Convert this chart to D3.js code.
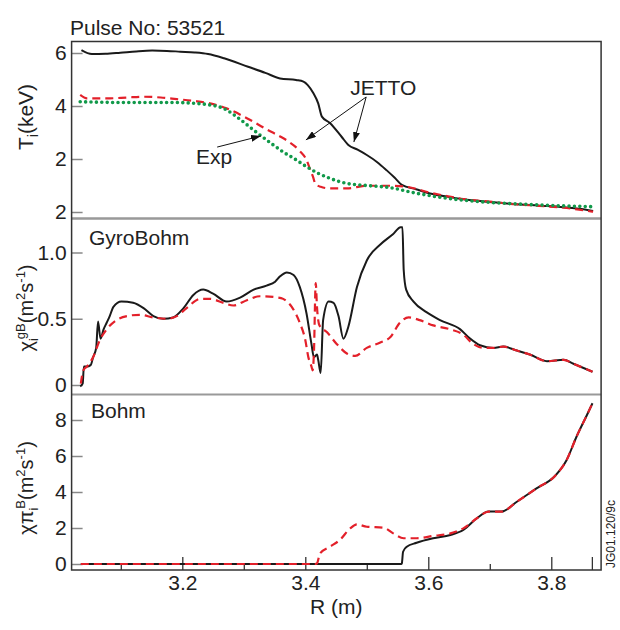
<!DOCTYPE html>
<meta charset="utf-8">
<style>
  body { margin: 0; background: #fff; }
  svg text { font-family: "Liberation Sans", Arial, Helvetica, sans-serif; fill: #222; }
  .ytick line { stroke: #888; stroke-width: 1.5px; }
  .xtick line { stroke: #333; stroke-width: 1.3px; }
  .tick text { font-size: 21px; }
  .frame { stroke: #333; stroke-width: 1.5px; fill: none; }
  .sep { stroke: #999; stroke-width: 2.5px; }
  .run1 { fill: none; stroke: #1a1a1a; stroke-width: 2px; }
  .run2 { fill: none; stroke: #e3202a; stroke-width: 2.2px; stroke-dasharray: 8 5; }
  .exp { fill: none; stroke: #11994a; stroke-width: 3.6px; stroke-dasharray: 0 5.4; stroke-linecap: round; }
</style>
<body>
<div id="chart"></div>
<script src="https://d3js.org/d3.v7.min.js"></script>
<script>

// ---- data: [R (m), value] ----
// Ti (keV)
var tiRun1 = [[3.036,6.11],[3.053,5.96],[3.075,5.97],[3.099,6.01],[3.125,6.06],[3.151,6.09],[3.175,6.08],[3.197,6.05],[3.22,6.02],[3.242,5.96],[3.268,5.80],[3.307,5.48],[3.335,5.25],[3.359,5.04],[3.385,4.98],[3.397,4.92],[3.404,4.79],[3.413,4.49],[3.421,4.1],[3.427,3.60],[3.440,3.36],[3.459,2.84],[3.470,2.53],[3.485,2.35],[3.500,2.15],[3.517,1.88],[3.532,1.58],[3.545,1.3],[3.557,1.02],[3.580,0.86],[3.603,0.70],[3.630,0.58],[3.657,0.48],[3.700,0.38],[3.738,0.30],[3.780,0.24],[3.820,0.18],[3.845,0.12],[3.868,0.04]];
var tiRun2 = [[3.034,4.42],[3.045,4.29],[3.082,4.29],[3.110,4.32],[3.137,4.35],[3.165,4.32],[3.191,4.26],[3.22,4.19],[3.245,4.10],[3.272,3.91],[3.305,3.54],[3.337,3.12],[3.359,2.85],[3.370,2.70],[3.391,2.30],[3.402,1.96],[3.408,1.6],[3.413,1.3],[3.416,1.08],[3.425,0.95],[3.440,0.89],[3.467,0.89],[3.500,0.99],[3.538,0.99],[3.565,0.95],[3.603,0.73],[3.630,0.60],[3.657,0.49],[3.700,0.39],[3.738,0.30],[3.780,0.23],[3.820,0.16],[3.868,0.01]];
var tiExp = [[3.034,4.16],[3.070,4.14],[3.110,4.13],[3.150,4.13],[3.191,4.13],[3.22,4.10],[3.245,4.04],[3.267,3.91],[3.288,3.60],[3.316,3.09],[3.348,2.53],[3.365,2.25],[3.381,2.03],[3.402,1.71],[3.420,1.47],[3.440,1.27],[3.467,1.08],[3.505,0.99],[3.538,0.92],[3.576,0.73],[3.620,0.55],[3.684,0.39],[3.766,0.28],[3.820,0.23],[3.868,0.20]];

// chi_i gyro-Bohm (m2/s)
var gbRun1 = [[3.034,-0.01],[3.038,0.01],[3.040,0.14],[3.045,0.14],[3.051,0.15],[3.055,0.21],[3.060,0.28],[3.063,0.48],[3.067,0.35],[3.072,0.42],[3.077,0.47],[3.082,0.52],[3.088,0.59],[3.101,0.63],[3.120,0.62],[3.137,0.58],[3.153,0.52],[3.169,0.50],[3.185,0.51],[3.202,0.58],[3.218,0.68],[3.234,0.72],[3.250,0.69],[3.272,0.63],[3.294,0.66],[3.316,0.72],[3.337,0.75],[3.351,0.78],[3.359,0.82],[3.370,0.85],[3.381,0.83],[3.391,0.74],[3.402,0.54],[3.410,0.31],[3.414,0.21],[3.419,0.23],[3.421,0.19],[3.425,0.09],[3.429,0.49],[3.438,0.63],[3.446,0.62],[3.454,0.52],[3.462,0.35],[3.470,0.44],[3.484,0.74],[3.500,0.94],[3.522,1.06],[3.543,1.14],[3.555,1.19],[3.558,1.19],[3.560,0.87],[3.564,0.72],[3.576,0.63],[3.597,0.55],[3.619,0.49],[3.652,0.42],[3.668,0.35],[3.684,0.30],[3.706,0.28],[3.722,0.29],[3.744,0.26],[3.765,0.23],[3.793,0.18],[3.820,0.19],[3.836,0.16],[3.867,0.10]];
var gbRun2 = [[3.035,0.01],[3.039,0.11],[3.045,0.14],[3.055,0.21],[3.066,0.34],[3.077,0.42],[3.093,0.49],[3.110,0.52],[3.131,0.53],[3.153,0.51],[3.175,0.50],[3.191,0.52],[3.207,0.58],[3.229,0.65],[3.245,0.65],[3.267,0.62],[3.283,0.60],[3.305,0.64],[3.326,0.67],[3.356,0.66],[3.364,0.65],[3.378,0.59],[3.391,0.47],[3.400,0.34],[3.405,0.21],[3.410,0.14],[3.412,0.11],[3.414,0.24],[3.417,0.77],[3.419,0.59],[3.423,0.45],[3.435,0.40],[3.451,0.31],[3.467,0.24],[3.481,0.22],[3.500,0.28],[3.522,0.32],[3.538,0.36],[3.554,0.47],[3.568,0.51],[3.586,0.49],[3.608,0.45],[3.636,0.42],[3.657,0.38],[3.673,0.31],[3.690,0.28],[3.706,0.28],[3.722,0.29],[3.744,0.26],[3.765,0.23],[3.793,0.18],[3.820,0.19],[3.836,0.16],[3.867,0.10]];

// chi pi_i Bohm (m2/s)
var bRun1 = [[3.035,0],[3.556,0],[3.557,0.04],[3.559,0.68],[3.565,0.96],[3.581,1.18],[3.608,1.43],[3.636,1.61],[3.657,1.89],[3.679,2.54],[3.698,2.91],[3.719,2.91],[3.744,3.46],[3.776,4.20],[3.806,4.89],[3.825,5.78],[3.841,7.07],[3.858,8.28],[3.867,8.93]];
var bRun2 = [[3.035,0],[3.416,0],[3.419,0.04],[3.424,0.59],[3.440,0.96],[3.456,1.33],[3.473,1.98],[3.484,2.20],[3.500,2.07],[3.527,2.02],[3.543,1.70],[3.560,1.43],[3.581,1.43],[3.608,1.56],[3.636,1.70],[3.657,1.98],[3.679,2.54],[3.698,2.91],[3.719,2.91],[3.744,3.46],[3.776,4.20],[3.806,4.89],[3.825,5.78],[3.841,7.07],[3.858,8.28],[3.867,8.93]];

// ticks
var xMajor = [3.2, 3.4, 3.6, 3.8, 3.866];
var xMajorLabels = ["3.2", "3.4", "3.6", "3.8", ""];
var xMinor = [3.1, 3.3, 3.5, 3.7];
var topTicks = [0, 2, 4, 6];
var topTickLabels = ["2", "2", "4", "6"];   // as printed on the original
var midTicks = [0, 0.5, 1.0];
var midTickLabels = ["0", "0.5", "1.0"];
var botTicks = [0, 2, 4, 6, 8];

var width = 620, height = 630;
var left = 71.6, right = 601.1;
var panels = {top: 41.5, sep1: 218.5, sep2: 394.5, bottom: 570};

var svg = d3.select("#chart").append("svg")
    .attr("width", width)
    .attr("height", height);

var x = d3.scaleLinear().domain([3.02, 3.881]).range([left, right]);
var yTop = d3.scaleLinear().domain([0, 6]).range([212, 53]);
var yMid = d3.scaleLinear().domain([0, 1]).range([385, 252.5]);
var yBot = d3.scaleLinear().domain([0, 8]).range([564, 420]);

// arrow head
svg.append("defs").append("marker")
    .attr("id", "arrow")
    .attr("viewBox", "0 0 10 7")
    .attr("refX", 10).attr("refY", 3.5)
    .attr("markerWidth", 10).attr("markerHeight", 7)
    .attr("markerUnits", "userSpaceOnUse")
    .attr("orient", "auto")
  .append("path")
    .attr("d", "M0,0L10,3.5L0,7Z")
    .attr("fill", "#111");

// y axes (ticks pointing inward)
function yAxis(scale, values, labels) {
  var ax = d3.axisLeft(scale).tickValues(values).tickSize(-11).tickPadding(5);
  if (labels) ax.tickFormat(function(d, i) { return labels[i]; });
  svg.append("g")
    .attr("class", "ytick")
    .attr("transform", "translate(" + left + ",0)")
    .call(ax)
    .call(function(g) { g.select(".domain").remove(); });
}
yAxis(yTop, topTicks, topTickLabels);
yAxis(yMid, midTicks, midTickLabels);
yAxis(yBot, botTicks, null);

// x axis on the bottom panel
svg.append("g")
    .attr("class", "xtick")
    .attr("transform", "translate(0," + panels.bottom + ")")
    .call(d3.axisBottom(x).tickValues(xMajor).tickSize(-13).tickPadding(5)
      .tickFormat(function(d, i) { return xMajorLabels[i]; }))
    .call(function(g) { g.select(".domain").remove(); });

svg.append("g")
    .attr("class", "xtick")
    .attr("transform", "translate(0," + panels.bottom + ")")
    .call(d3.axisBottom(x).tickValues(xMinor).tickSize(-6).tickFormat(""))
    .call(function(g) { g.select(".domain").remove(); });

// frame
svg.append("line").attr("class", "sep")
    .attr("x1", left).attr("x2", right).attr("y1", panels.sep1).attr("y2", panels.sep1);
svg.append("line").attr("class", "sep").style("stroke-width", "2px")
    .attr("x1", left).attr("x2", right).attr("y1", panels.sep2).attr("y2", panels.sep2);
svg.append("rect").attr("class", "frame")
    .attr("x", left).attr("y", panels.top)
    .attr("width", right - left).attr("height", panels.bottom - panels.top);

// curves
function draw(data, yScale, cls) {
  var line = d3.line()
      .x(function(d) { return x(d[0]); })
      .y(function(d) { return yScale(d[1]); })
      .curve(d3.curveMonotoneX);
  svg.append("path").datum(data).attr("class", cls).attr("d", line);
}
draw(tiRun1, yTop, "run1");
draw(tiRun2, yTop, "run2");
draw(tiExp, yTop, "exp");
draw(gbRun1, yMid, "run1");
draw(gbRun2, yMid, "run2");
draw(bRun1, yBot, "run1");
draw(bRun2, yBot, "run2");

// annotations
svg.append("text").attr("x", 70).attr("y", 35)
    .style("font-size", "21px").text("Pulse No: 53521");
svg.append("text").attr("x", 89).attr("y", 245)
    .style("font-size", "21px").text("GyroBohm");
svg.append("text").attr("x", 91).attr("y", 418)
    .style("font-size", "21px").text("Bohm");

svg.append("text").attr("x", x(3.473)).attr("y", yTop(4.42))
    .style("font-size", "21px").text("JETTO");
svg.append("text").attr("x", x(3.2224)).attr("y", yTop(1.83))
    .style("font-size", "21px").text("Exp");

function arrow(x1, y1, x2, y2) {
  svg.append("line")
      .attr("x1", x(x1)).attr("y1", yTop(y1))
      .attr("x2", x(x2)).attr("y2", yTop(y2))
      .attr("stroke", "#111").attr("stroke-width", 1)
      .attr("marker-end", "url(#arrow)");
}
arrow(3.499, 4.34, 3.401, 2.72);
arrow(3.499, 4.34, 3.479, 2.64);
arrow(3.2567, 2.45, 3.328, 2.87);

// axis titles
svg.append("text")
    .attr("x", 310).attr("y", 614)
    .style("font-size", "21px").text("R (m)");

var t1 = svg.append("text")
    .attr("transform", "translate(33,117) rotate(-90)")
    .attr("text-anchor", "middle")
    .style("font-size", "21px");
t1.append("tspan").text("T");
t1.append("tspan").attr("dy", 5).style("font-size", "14px").text("i");
t1.append("tspan").attr("dy", -5).text("(keV)");

function chiTitle(cy, head, sup) {
  var t = svg.append("text")
      .attr("transform", "translate(33," + cy + ") rotate(-90)")
      .attr("text-anchor", "middle")
      .style("font-size", "20px");
  t.append("tspan").text(head);
  t.append("tspan").attr("dy", 5).style("font-size", "13px").text("i");
  t.append("tspan").attr("dy", -13).attr("dx", -1).style("font-size", "13px").text(sup);
  t.append("tspan").attr("dy", 8).text("(m");
  t.append("tspan").attr("dy", -8).style("font-size", "13px").text("2");
  t.append("tspan").attr("dy", 8).text("s");
  t.append("tspan").attr("dy", -8).style("font-size", "13px").text("-1");
  t.append("tspan").attr("dy", 8).text(")");
}
chiTitle(308, "\u03c7", "gB");
chiTitle(488, "\u03c7\u03c0", "B");

svg.append("text")
    .attr("transform", "translate(615,568) rotate(-90)")
    .style("font-size", "12px")
    .text("JG01.120/9c");

</script>
</body>
